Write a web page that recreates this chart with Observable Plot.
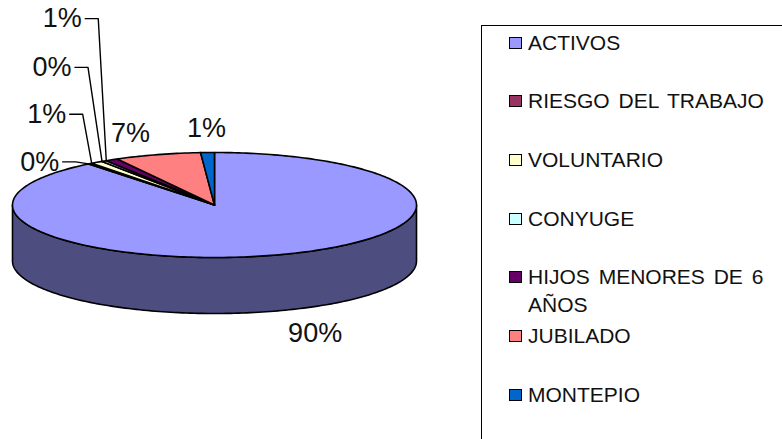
<!DOCTYPE html>
<html>
<head>
<meta charset="utf-8">
<script src="https://cdn.jsdelivr.net/npm/d3@7"></script>
<script src="https://cdn.jsdelivr.net/npm/@observablehq/plot@0.6"></script>
<style>
html,body{margin:0;padding:0;background:#fff;overflow:hidden;width:782px;height:439px}
#chart{position:absolute;left:0;top:0}
#legend{position:absolute;left:481px;top:25px;width:301px;height:414px;box-sizing:border-box;border-left:1.5px solid #000;border-top:1.5px solid #000;font:21px "Liberation Sans",Arial,sans-serif;color:#111;word-spacing:3px}
.row{position:absolute;left:27px;width:264px;display:flex;align-items:flex-start;line-height:28px}
.sw{flex:none;width:11px;height:10px;border:1.4px solid #000;margin:8px 6px 0 0}
</style>
</head>
<body>
<div id="chart"></div>
<div id="legend"></div>
<script>
// Data, clockwise from twelve o'clock
const categories = ["ACTIVOS","RIESGO DEL TRABAJO","VOLUNTARIO","CONYUGE","HIJOS MENORES DE 6 AÑOS","JUBILADO","MONTEPIO"];
const values = [89.3, 0.3, 1.0, 0.4, 1.0, 6.9, 1.1];
const labels = ["90%","0%","1%","0%","1%","7%","1%"];
const colors = ["#9999ff","#993366","#ffffcc","#ccffff","#660066","#ff8080","#0066cc"];
const wallColor = "#4d4d80";

// Layout
const xRange = [12, 416], yRange = [257, 152], depthPx = 56;
const rx = (xRange[1]-xRange[0])/2, ry = (yRange[0]-yRange[1])/2;
const labelOffsets = [[34,79],[-49,-2],[-45,-49],[-50,-94],[-44,-142],[-27,-21],[-1,-24]];
const hasLeader = [false,true,true,true,true,false,false];
const depth = depthPx/ry;

const total = d3.sum(values);
let acc = 0;
const slices = categories.map((name,i)=>{
  const start = acc/total*2*Math.PI; acc += values[i];
  const end = acc/total*2*Math.PI;
  return {name,i,start,end,color:colors[i]};
});
const rim = (a,drop=0)=>({x:Math.sin(a), y:Math.cos(a)-drop});
const arc = (a0,a1,drop=0)=>{
  const n = Math.max(2,Math.ceil((a1-a0)/0.02));
  return d3.range(n+1).map(k=>rim(a0+(a1-a0)*k/n,drop));
};

// Wall: front half of the rim
const wall = [...arc(Math.PI/2,3*Math.PI/2),...arc(Math.PI/2,3*Math.PI/2,depth).reverse(),rim(Math.PI/2)]
  .map(p=>({...p,color:wallColor}));
// Top wedges
const wedges = slices.flatMap(s=>{
  const c={x:0,y:0};
  return [c,...arc(s.start,s.end),c].map(p=>({...p,z:s.name,color:s.color}));
});
// Labels
const textData = slices.map((s,i)=>{
  const a = hasLeader[i] ? s.start : (s.start+s.end)/2;
  const p = rim(a), [ox,oy]=labelOffsets[i];
  return {text:labels[i], x:p.x+ox/rx, y:p.y-oy/ry, ax:p.x, ay:p.y, leader:hasLeader[i], name:s.name};
});
const leaders = textData.filter(d=>d.leader).flatMap(d=>[
  {x:d.x+23/rx,y:d.y,z:d.name},
  {x:d.x+36/rx,y:d.y,z:d.name},
  {x:d.ax,y:d.ay,z:d.name}
]);

const plot = Plot.plot({
  width:782, height:439, margin:0,
  x:{domain:[-1,1],range:xRange,axis:null},
  y:{domain:[-1,1],range:yRange,axis:null},
  style:{background:"transparent"},
  marks:[
    Plot.line(wall,{x:"x",y:"y",fill:"color",stroke:"#000",strokeWidth:1.6}),
    Plot.line(wedges,{x:"x",y:"y",z:"z",fill:"color",stroke:"#000",strokeWidth:1.6}),
    Plot.line(leaders,{x:"x",y:"y",z:"z",stroke:"#000",strokeWidth:1.4}),
    Plot.text(textData,{x:"x",y:"y",text:"text",fontSize:27,fontFamily:"Liberation Sans, Arial, sans-serif",fill:"#111"})
  ]
});
document.getElementById("chart").append(plot);

// Legend
const legend = document.getElementById("legend");
categories.forEach((name,i)=>{
  const row = document.createElement("div");
  row.className="row";
  row.style.top = (2.5 + i*58.7)+"px";
  const sw = document.createElement("span");
  sw.className="sw"; sw.style.background=colors[i];
  const t = document.createElement("span");
  t.textContent=name;
  row.append(sw,t);
  legend.append(row);
});
</script>
</body>
</html>
